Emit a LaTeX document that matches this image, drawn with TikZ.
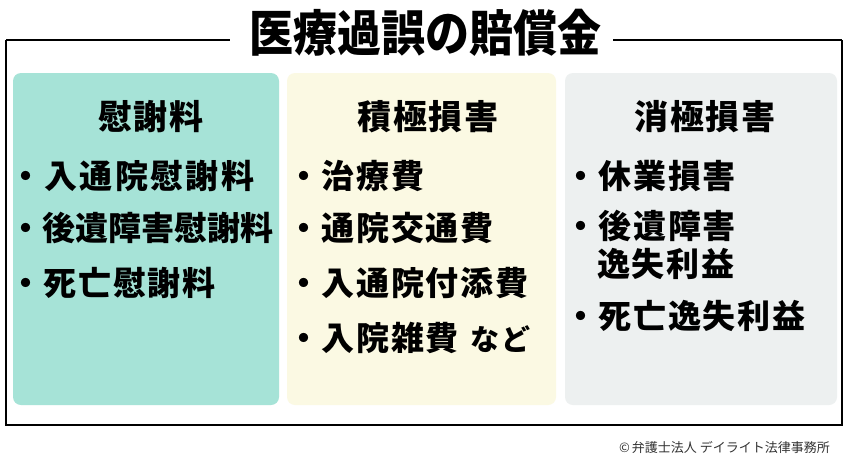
\documentclass[tikz,border=0pt]{standalone}
\usepackage{fontspec}
\usepackage{graphicx}
\newfontfamily\cjk{Noto Sans CJK JP}
\newfontfamily\cjksp{Noto Sans CJK JP}[LetterSpace=5]
\newfontfamily\cjkwide{Noto Sans CJK JP}[LetterSpace=7]
\definecolor{boxteal}{HTML}{A6E3D7}
\definecolor{boxyellow}{HTML}{FBF9E3}
\definecolor{boxgray}{HTML}{EDF0F0}
\definecolor{credit}{HTML}{333333}
\tikzset{
  panel/.style={rounded corners=8pt, draw=none},
  heading/.style={font=\cjksp\bfseries\fontsize{34}{34}\selectfont, inner sep=0pt, anchor=center},
  item/.style={font=\cjksp\bfseries\fontsize{33}{33}\selectfont, inner sep=0pt, anchor=west},
  frameline/.style={line width=2.5pt, black}
}
\begin{document}
\begin{tikzpicture}[x=1pt,y=-1pt]
\useasboundingbox (0,0) rectangle (850,466);
\fill[white] (0,0) rectangle (850,466);
% outer frame
\coordinate (tl) at (6,40);
\coordinate (tr) at (842,40);
\coordinate (bl) at (6,425);
\coordinate (br) at (842,425);
\draw[frameline] (tl) -- (bl) -- (br) -- (tr);
\node[font=\cjk\bfseries\fontsize{44}{44}\selectfont, inner sep=0pt] (title) at (425,33) {\scalebox{1}[1.12]{医療過誤の賠償金}};
\coordinate (gl) at (230,40);
\coordinate (gr) at (613,40);
\draw[frameline] (tl) -- (gl);
\draw[frameline] (gr) -- (tr);
% panels
\fill[panel, boxteal] (13,73) rectangle (279,405);
\fill[panel, boxyellow] (287,73) rectangle (556,405);
\fill[panel, boxgray] (565,73) rectangle (837,405);
% column 1
\node[heading] (h1) at (151,117) {慰謝料};
\node[item, font=\cjkwide\bfseries\fontsize{33}{33}\selectfont] (a1) at (9,176) {・入通院慰謝料};
\node[item, font=\cjk\bfseries\fontsize{33}{33}\selectfont] (a2) at (9,228) {・後遺障害慰謝料};
\node[item] (a3) at (9,283) {・死亡慰謝料};
% column 2
\node[heading] (h2) at (428,117) {積極損害};
\node[item] (b1) at (287,176) {・治療費};
\node[item] (b2) at (287,228) {・通院交通費};
\node[item] (b3) at (287,283) {・入通院付添費};
\node[item] (b4) at (287,338) {・入院雑費\hspace{12pt}{\fontsize{29}{29}\selectfont など}};
% column 3
\node[heading] (h3) at (705,117) {消極損害};
\node[item] (c1) at (564,176) {・休業損害};
\node[item] (c2) at (564,226) {・後遺障害};
\node[item] (c2b) at (597,264) {逸失利益};
\node[item] (c3) at (564,316) {・死亡逸失利益};
% credit
\node[font=\cjk\fontsize{13}{13}\selectfont, text=credit, inner sep=0pt, anchor=east] (credit) at (830,447) {©\hspace{2pt}弁護士法人 デイライト法律事務所};
\end{tikzpicture}
\end{document}
